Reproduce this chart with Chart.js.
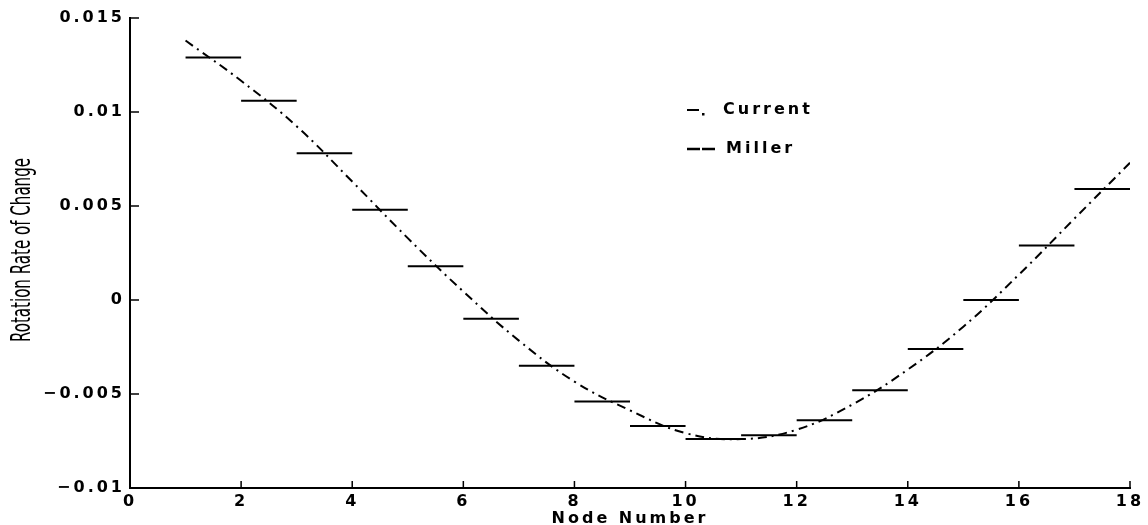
<!DOCTYPE html>
<html>
<head>
<meta charset="utf-8">
<script src="https://cdn.jsdelivr.net/npm/chart.js@4.4.1/dist/chart.umd.min.js"></script>
<style>
  html, body { margin: 0; padding: 0; background: #fff; }
</style>
</head>
<body>
<canvas id="rateChart" width="1148" height="525"></canvas>
<script>
// node numbers where the Current curve was read
const nodes = [1, 2, 3, 4, 5, 6, 7, 8, 9, 10, 11, 12, 13, 14, 15, 16, 17, 18];
const currentRate = [0.0138, 0.01166, 0.00924, 0.0063, 0.00329, 0.00045, -0.00216, -0.00434, -0.00587,
                     -0.00708, -0.0074, -0.0069, -0.00556, -0.0037, -0.00142, 0.00135, 0.00433, 0.0073];
// Miller: one constant value per element, element i runs from node i to node i+1
const millerRate = [0.0129, 0.0106, 0.0078, 0.0048, 0.0018, -0.001, -0.0035, -0.0054, -0.0067,
                    -0.0074, -0.0072, -0.0064, -0.0048, -0.0026, 0.0, 0.0029, 0.0059];
const xTicks = [0, 2, 4, 6, 8, 10, 12, 14, 16, 18];
const yTicks = [-0.01, -0.005, 0, 0.005, 0.01, 0.015];
const legendLabels = ['Current', 'Miller'];
const xTitle = 'Node Number';
const yTitle = 'Rotation Rate of Change';

const tickFont = { family: 'DejaVu Sans', weight: 'bold', size: 16 };

function fmtTick(v) {
    if (Math.abs(v) < 1e-12) return '0';
    return String(Number(v.toFixed(4))).replace('-', '\u2212');
}

// stepwise Miller values -> separate horizontal pieces, null breaks the line
function millerPoints() {
    const pts = [];
    millerRate.forEach((v, i) => {
        pts.push({ x: i + 1, y: v });
        pts.push({ x: i + 2, y: v });
        pts.push({ x: i + 2, y: null });
    });
    return pts;
}

// matlab style: inward ticks, wide tick text, tall narrow y label, text legend
const matlabLook = {
    id: 'matlabLook',
    beforeDraw(chart) {
        chart.ctx.letterSpacing = '3px';
    },
    afterDraw(chart) {
        const ctx = chart.ctx;
        const xs = chart.scales.x;
        const ys = chart.scales.y;
        const area = chart.chartArea;
        ctx.save();
        ctx.strokeStyle = '#000';
        ctx.fillStyle = '#000';
        ctx.lineWidth = 1.5;
        ctx.setLineDash([]);
        ctx.beginPath();
        xs.ticks.forEach(t => {
            const px = xs.getPixelForValue(t.value);
            ctx.moveTo(px, area.bottom);
            ctx.lineTo(px, area.bottom - 7);
        });
        ys.ticks.forEach(t => {
            const py = ys.getPixelForValue(t.value);
            ctx.moveTo(area.left, py);
            ctx.lineTo(area.left + 9, py);
        });
        ctx.stroke();

        // y axis title, squeezed to the length it has in the plot
        ctx.save();
        ctx.letterSpacing = '0px';
        ctx.font = '26px "Liberation Sans Narrow", "DejaVu Sans Condensed", sans-serif';
        const w = ctx.measureText(yTitle).width;
        ctx.translate(23, 250);
        ctx.rotate(-Math.PI / 2);
        ctx.scale(184 / w, 1);
        ctx.textAlign = 'center';
        ctx.textBaseline = 'middle';
        ctx.fillText(yTitle, 0, 0);
        ctx.restore();

        // legend
        const lx = 687, ly = [110, 149];
        ctx.lineWidth = 2;
        ctx.beginPath();
        ctx.moveTo(lx, ly[0]); ctx.lineTo(lx + 12, ly[0]);
        ctx.stroke();
        ctx.fillRect(lx + 15, ly[0] + 3, 2.5, 2.5);
        ctx.lineWidth = 2.5;
        ctx.beginPath();
        ctx.setLineDash([13, 2]);
        ctx.moveTo(lx, ly[1]); ctx.lineTo(lx + 28, ly[1]);
        ctx.stroke();
        ctx.setLineDash([]);
        ctx.letterSpacing = '3px';
        ctx.font = 'bold 16px "DejaVu Sans"';
        ctx.textAlign = 'left';
        ctx.textBaseline = 'middle';
        ctx.fillText(legendLabels[0], 723, ly[0]);
        ctx.fillText(legendLabels[1], 726, ly[1]);
        ctx.restore();
    }
};

const data = {
    datasets: [{
        label: legendLabels[0],
        data: nodes.map((n, i) => ({ x: n, y: currentRate[i] })),
        borderColor: '#000',
        borderWidth: 2,
        borderDash: [9, 5, 2, 5],
        tension: 0.4,
        pointRadius: 0,
        fill: false
    }, {
        label: legendLabels[1],
        data: millerPoints(),
        borderColor: '#000',
        borderWidth: 2,
        spanGaps: false,
        pointRadius: 0,
        fill: false
    }]
};

const config = {
    type: 'line',
    data: data,
    options: {
        responsive: false,
        animation: false,
        devicePixelRatio: 1,
        layout: { padding: { left: 0, right: 18, top: 18, bottom: 0 } },
        plugins: {
            legend: { display: false },
            tooltip: { enabled: false }
        },
        scales: {
            x: {
                type: 'linear',
                min: 0,
                max: 18,
                afterBuildTicks: s => { s.ticks = xTicks.map(v => ({ value: v })); },
                afterFit: s => { s.height = 37; },
                grid: { display: false, drawTicks: false },
                border: { display: true, color: '#000', width: 2 },
                ticks: { color: '#000', font: tickFont, padding: 4, autoSkip: false, maxRotation: 0, callback: v => fmtTick(v) },
                title: { display: true, text: xTitle, color: '#000', font: tickFont, padding: { top: 0, bottom: -3 } }
            },
            y: {
                type: 'linear',
                min: -0.01,
                max: 0.015,
                afterBuildTicks: s => { s.ticks = yTicks.map(v => ({ value: v })); },
                afterFit: s => { s.width = 130; },
                grid: { display: false, drawTicks: false },
                border: { display: true, color: '#000', width: 2 },
                ticks: { color: '#000', font: tickFont, padding: 5, autoSkip: false, callback: v => fmtTick(v) }
            }
        }
    },
    plugins: [matlabLook]
};

const rateChart = new Chart(document.getElementById('rateChart'), config);
</script>
</body>
</html>
